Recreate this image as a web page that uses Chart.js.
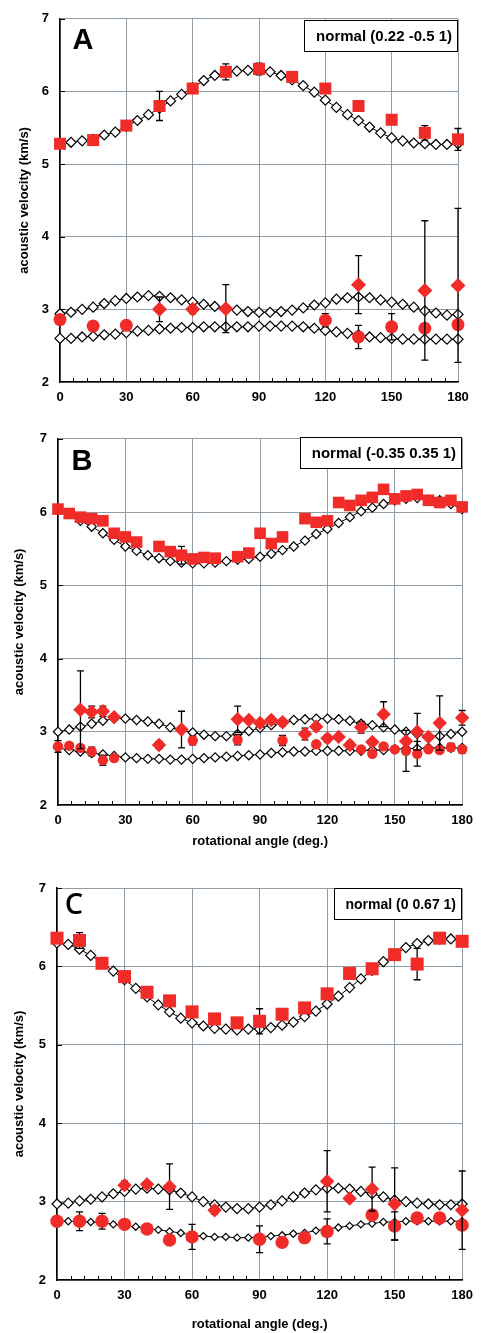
<!DOCTYPE html>
<html>
<head>
<meta charset="utf-8">
<script src="https://cdn.jsdelivr.net/npm/chart.js@4.4.1/dist/chart.umd.min.js"></script>
<style>
  html, body { margin: 0; padding: 0; background: #fff; }
  #page { position: relative; width: 481px; height: 1333px; }
  canvas { position: absolute; left: 0; }
</style>
</head>
<body>
<div id="page">
  <canvas id="chartA" width="481" height="420" style="top:0px"></canvas>
  <canvas id="chartB" width="481" height="430" style="top:420px"></canvas>
  <canvas id="chartC" width="481" height="483" style="top:850px"></canvas>
</div>
<script>
// rotational angle (deg.) of the model curves
const modelAngles = [0, 5, 10, 15, 20, 25, 30, 35, 40, 45, 50, 55, 60, 65, 70, 75, 80, 85, 90,
    95, 100, 105, 110, 115, 120, 125, 130, 135, 140, 145, 150, 155, 160, 165, 170, 175, 180];

// ---- A: normal (0.22 -0.5 1)
const aModelP = [5.27, 5.30, 5.32, 5.34, 5.40, 5.44, 5.52, 5.60, 5.68, 5.77, 5.87, 5.96, 6.05, 6.15, 6.22, 6.26, 6.28, 6.29, 6.30,
    6.27, 6.22, 6.16, 6.08, 5.99, 5.88, 5.78, 5.68, 5.60, 5.51, 5.43, 5.36, 5.32, 5.29, 5.28, 5.27, 5.27, 5.28];
const aModelS1 = [2.94, 2.96, 3.00, 3.03, 3.08, 3.12, 3.15, 3.17, 3.19, 3.18, 3.16, 3.13, 3.10, 3.07, 3.04, 3.01, 2.99, 2.97, 2.96,
    2.96, 2.97, 2.99, 3.02, 3.06, 3.09, 3.14, 3.16, 3.17, 3.16, 3.13, 3.10, 3.07, 3.03, 2.98, 2.95, 2.92, 2.93];
const aModelS2 = [2.60, 2.60, 2.62, 2.63, 2.65, 2.66, 2.68, 2.70, 2.71, 2.73, 2.74, 2.75, 2.75, 2.76, 2.76, 2.76, 2.76, 2.76, 2.77,
    2.77, 2.77, 2.77, 2.76, 2.74, 2.71, 2.69, 2.67, 2.65, 2.62, 2.61, 2.60, 2.59, 2.59, 2.59, 2.59, 2.59, 2.59];
const aAnglesP = [0, 15, 30, 45, 60, 75, 90, 105, 120, 135, 150, 165, 180];
const aMeasP = [5.28, 5.33, 5.53, 5.80, 6.04, 6.27, 6.31, 6.20, 6.04, 5.80, 5.61, 5.43, 5.34];
const aErrP = [0, 0, 0, 0.20, 0, 0.11, 0.08, 0, 0, 0, 0, 0.10, 0.15];
const aAnglesS1 = [45, 60, 75, 135, 165, 180];
const aMeasS1 = [3.00, 3.00, 3.01, 3.34, 3.26, 3.33];
const aErrS1 = [0.17, 0.06, 0.33, 0.40, 0.96, 1.06];
const aAnglesS2 = [0, 15, 30, 120, 135, 150, 165, 180];
const aMeasS2 = [2.86, 2.77, 2.78, 2.85, 2.62, 2.76, 2.74, 2.79];
const aErrS2 = [0, 0, 0, 0.09, 0.16, 0.18, 0, 0];

// ---- B: normal (-0.35 0.35 1)
const bModelP = [6.03, 5.98, 5.88, 5.80, 5.71, 5.62, 5.53, 5.47, 5.41, 5.37, 5.33, 5.31, 5.30, 5.30, 5.31, 5.33, 5.35, 5.36, 5.39,
    5.43, 5.48, 5.53, 5.61, 5.70, 5.77, 5.85, 5.93, 6.01, 6.06, 6.11, 6.16, 6.18, 6.19, 6.17, 6.16, 6.11, 6.04];
const bModelS1 = [3.00, 3.03, 3.07, 3.11, 3.15, 3.18, 3.18, 3.16, 3.14, 3.11, 3.06, 3.02, 2.99, 2.96, 2.94, 2.94, 2.97, 3.01, 3.05,
    3.09, 3.12, 3.16, 3.17, 3.18, 3.18, 3.17, 3.15, 3.11, 3.09, 3.06, 3.03, 3.00, 2.97, 2.94, 2.94, 2.97, 3.00];
const bModelS2 = [2.78, 2.75, 2.73, 2.71, 2.69, 2.67, 2.65, 2.64, 2.63, 2.63, 2.62, 2.62, 2.63, 2.64, 2.65, 2.66, 2.67, 2.68, 2.69,
    2.71, 2.72, 2.73, 2.73, 2.74, 2.74, 2.74, 2.74, 2.74, 2.75, 2.75, 2.76, 2.77, 2.77, 2.78, 2.78, 2.78, 2.78];
const bAnglesP = [0, 5, 10, 15, 20, 25, 30, 35, 45, 50, 55, 60, 65, 70, 80, 85, 90, 95, 100,
    110, 115, 120, 125, 130, 135, 140, 145, 150, 155, 160, 165, 170, 175, 180];
const bMeasP = [6.04, 5.98, 5.93, 5.91, 5.88, 5.71, 5.66, 5.59, 5.53, 5.46, 5.41, 5.36, 5.38, 5.37, 5.39, 5.44, 5.71, 5.57, 5.66,
    5.91, 5.86, 5.88, 6.13, 6.09, 6.16, 6.20, 6.31, 6.18, 6.22, 6.24, 6.16, 6.13, 6.16, 6.07];
const bErrP = [0, 0, 0, 0, 0, 0, 0, 0, 0, 0, 0.12, 0, 0, 0, 0, 0, 0.06, 0, 0,
    0, 0, 0, 0, 0, 0, 0, 0, 0, 0, 0, 0, 0, 0, 0];
const bAnglesS1 = [10, 15, 20, 25, 45, 55, 80, 85, 90, 95, 100, 110, 115, 120, 125, 130, 135, 140, 145, 155, 160, 165, 170, 180];
const bMeasS1 = [3.30, 3.27, 3.28, 3.20, 2.82, 3.03, 3.17, 3.16, 3.12, 3.16, 3.13, 2.97, 3.07, 2.91, 2.93, 2.82, 3.06, 2.86, 3.24,
    2.87, 3.00, 2.93, 3.12, 3.19];
const bErrS1 = [0.53, 0.08, 0.07, 0, 0.05, 0.25, 0.18, 0, 0, 0, 0.05, 0.08, 0, 0.05, 0, 0.05, 0.08, 0, 0.17,
    0, 0.25, 0, 0.37, 0.10];
const bAnglesS2 = [0, 5, 10, 15, 20, 25, 60, 80, 100, 115, 135, 140, 145, 150, 155, 160, 165, 170, 175, 180];
const bMeasS2 = [2.80, 2.81, 2.78, 2.73, 2.61, 2.64, 2.88, 2.89, 2.88, 2.83, 2.76, 2.70, 2.80, 2.76, 2.74, 2.70, 2.76, 2.75, 2.79, 2.76];
const bErrS2 = [0.08, 0.04, 0, 0.06, 0.07, 0, 0.06, 0.07, 0.07, 0, 0, 0, 0, 0, 0.28, 0.17, 0, 0, 0.05, 0.05];

// ---- C: normal (0 0.67 1)
const cModelP = [6.30, 6.28, 6.22, 6.14, 6.05, 5.94, 5.83, 5.72, 5.61, 5.51, 5.42, 5.34, 5.28, 5.24, 5.21, 5.20, 5.19, 5.20, 5.20,
    5.22, 5.25, 5.29, 5.36, 5.43, 5.52, 5.62, 5.73, 5.84, 5.95, 6.06, 6.15, 6.24, 6.29, 6.33, 6.35, 6.35, 6.32];
const cModelS1 = [2.97, 2.98, 3.01, 3.03, 3.06, 3.10, 3.13, 3.16, 3.17, 3.16, 3.15, 3.11, 3.06, 3.00, 2.96, 2.93, 2.91, 2.91, 2.93,
    2.96, 3.01, 3.06, 3.11, 3.15, 3.17, 3.17, 3.16, 3.13, 3.10, 3.06, 3.02, 3.00, 2.98, 2.97, 2.96, 2.96, 2.97];
const cModelS2 = [2.75, 2.75, 2.74, 2.74, 2.73, 2.71, 2.69, 2.68, 2.66, 2.64, 2.62, 2.60, 2.57, 2.56, 2.55, 2.55, 2.54, 2.54, 2.55,
    2.56, 2.57, 2.59, 2.60, 2.63, 2.65, 2.67, 2.69, 2.71, 2.72, 2.74, 2.74, 2.75, 2.75, 2.75, 2.75, 2.75, 2.75];
const cAnglesP = [0, 10, 20, 30, 40, 50, 60, 70, 80, 90, 100, 110, 120, 130, 140, 150, 160, 170, 180];
const cMeasP = [6.36, 6.33, 6.04, 5.87, 5.67, 5.56, 5.42, 5.33, 5.28, 5.30, 5.39, 5.47, 5.65, 5.91, 5.97, 6.15, 6.03, 6.36, 6.32];
const cErrP = [0.05, 0.10, 0, 0.05, 0, 0, 0, 0, 0, 0.16, 0.05, 0.05, 0.05, 0, 0, 0, 0.20, 0, 0];
const cAnglesS1 = [30, 40, 50, 70, 120, 130, 140, 150, 180];
const cMeasS1 = [3.21, 3.22, 3.19, 2.89, 3.26, 3.04, 3.16, 2.97, 2.89];
const cErrS1 = [0.05, 0.03, 0.29, 0.05, 0.39, 0, 0.28, 0.46, 0.50];
const cAnglesS2 = [0, 10, 20, 30, 40, 50, 60, 90, 100, 110, 120, 140, 150, 160, 170, 180];
const cMeasS2 = [2.75, 2.75, 2.75, 2.71, 2.65, 2.51, 2.55, 2.52, 2.48, 2.54, 2.62, 2.83, 2.69, 2.79, 2.79, 2.70];
const cErrS2 = [0.05, 0.12, 0.10, 0, 0.05, 0.05, 0.16, 0.17, 0, 0.04, 0.16, 0, 0.18, 0.05, 0.05, 0];

const angleTicks = [0, 30, 60, 90, 120, 150, 180];

const RED = '#f02b28';
const GRID = '#8e9ca6';
const FONT = "'Liberation Sans', Arial, Helvetica, sans-serif";

function points(xs, ys) {
    return xs.map((x, i) => ({ x: x, y: ys[i] }));
}

function modelSet(values, radius) {
    return {
        data: points(modelAngles, values),
        showLine: true,
        clip: false,
        borderColor: '#000',
        borderWidth: 1,
        pointStyle: 'rectRot',
        pointRadius: radius,
        pointBackgroundColor: '#fff',
        pointBorderColor: '#000',
        pointBorderWidth: 1.2,
        order: 2
    };
}

function measuredSet(angles, values, errors, style, radius) {
    return {
        data: points(angles, values),
        errors: errors,
        showLine: false,
        clip: false,
        pointStyle: style,
        pointRadius: radius,
        pointBackgroundColor: RED,
        pointBorderColor: RED,
        pointBorderWidth: 0,
        order: 1
    };
}

// error bars, inner tick marks, panel letter and the "normal (...)" box
const panelDecor = {
    id: 'panelDecor',
    beforeDatasetsDraw(chart) {
        const { ctx, chartArea: area, scales: { x, y } } = chart;
        ctx.save();
        ctx.strokeStyle = '#000';
        ctx.lineWidth = 1;
        ctx.beginPath();
        for (let a = 6; a < 180; a += 6) {
            if (a % 30 === 0) continue;
            const px = Math.round(x.getPixelForValue(a)) + 0.5;
            ctx.moveTo(px, area.bottom);
            ctx.lineTo(px, area.bottom - 4);
        }
        for (let v = 3; v <= 7; v++) {
            const py = Math.round(y.getPixelForValue(v)) + 0.5;
            ctx.moveTo(area.left, py);
            ctx.lineTo(area.left + 5, py);
        }
        ctx.stroke();
        ctx.restore();
    },
    beforeDatasetDraw(chart, args) {
        const ds = chart.data.datasets[args.index];
        if (!ds.errors) return;
        const { ctx, scales: { x, y } } = chart;
        ctx.save();
        ctx.strokeStyle = '#000';
        ctx.lineWidth = 1.3;
        ctx.beginPath();
        ds.data.forEach((p, i) => {
            const e = ds.errors[i];
            if (!e) return;
            const px = x.getPixelForValue(p.x);
            const top = y.getPixelForValue(p.y + e);
            const bot = y.getPixelForValue(p.y - e);
            ctx.moveTo(px, top); ctx.lineTo(px, bot);
            ctx.moveTo(px - 3.5, top); ctx.lineTo(px + 3.5, top);
            ctx.moveTo(px - 3.5, bot); ctx.lineTo(px + 3.5, bot);
        });
        ctx.stroke();
        ctx.restore();
    },
    afterDraw(chart, args, opts) {
        const { ctx, chartArea: area } = chart;
        ctx.save();
        ctx.fillStyle = '#000';
        ctx.font = opts.letterFont;
        ctx.textAlign = 'center';
        ctx.textBaseline = 'middle';
        ctx.fillText(opts.letter, area.left + opts.letterDx, area.top + opts.letterDy);

        ctx.font = opts.boxFont;
        const w = Math.round(ctx.measureText(opts.label).width + 18);
        const right = Math.round(area.right);
        const top = Math.round(area.top + opts.boxDy);
        ctx.fillStyle = '#fff';
        ctx.fillRect(right - w, top, w, 32);
        ctx.strokeStyle = '#000';
        ctx.lineWidth = 1;
        ctx.strokeRect(right - w + 0.5, top + 0.5, w - 1, 31);
        ctx.fillStyle = '#000';
        ctx.textAlign = 'right';
        ctx.fillText(opts.label, right - 6, top + 17);
        ctx.restore();
    }
};

function makePanel(id, cfg) {
    const ctx = document.getElementById(id).getContext('2d');
    const tickFont = { family: FONT, size: 13, weight: 'bold' };
    return new Chart(ctx, {
        type: 'scatter',
        data: {
            datasets: [
                measuredSet(cfg.angP, cfg.measP, cfg.errP, 'rect', cfg.sizes.p),
                measuredSet(cfg.angS1, cfg.measS1, cfg.errS1, 'rectRot', cfg.sizes.s1),
                measuredSet(cfg.angS2, cfg.measS2, cfg.errS2, 'circle', cfg.sizes.s2),
                modelSet(cfg.modelP, cfg.sizes.model),
                modelSet(cfg.modelS1, cfg.sizes.model),
                modelSet(cfg.modelS2, cfg.sizes.modelLow)
            ]
        },
        options: {
            responsive: false,
            animation: false,
            events: [],
            layout: {
                autoPadding: false,
                padding: { top: cfg.area.top, right: cfg.area.right, left: 0, bottom: 0 }
            },
            plugins: {
                legend: { display: false },
                tooltip: { enabled: false },
                panelDecor: cfg.decor
            },
            scales: {
                x: {
                    type: 'linear',
                    min: 0,
                    max: 180,
                    afterBuildTicks: (scale) => { scale.ticks = angleTicks.map(v => ({ value: v })); },
                    ticks: { color: '#000', font: tickFont, padding: 8, maxRotation: 0 },
                    grid: { color: GRID, lineWidth: 1, drawTicks: false },
                    border: { color: '#000', width: 1.5 },
                    title: {
                        display: cfg.xTitle,
                        text: 'rotational angle (deg.)',
                        color: '#000',
                        font: { family: FONT, size: 13, weight: 'bold' },
                        padding: { top: 0, bottom: 0.5 }
                    },
                    afterFit: (scale) => { scale.height = cfg.area.xHeight; }
                },
                y: {
                    type: 'linear',
                    min: 2,
                    max: 7,
                    ticks: { stepSize: 1, color: '#000', font: tickFont, padding: 11 },
                    grid: { color: GRID, lineWidth: 1, drawTicks: false },
                    border: { color: '#000', width: 1.5 },
                    title: {
                        display: true,
                        text: 'acoustic velocity (km/s)',
                        color: '#000',
                        font: { family: FONT, size: 13, weight: 'bold' },
                        padding: { top: cfg.area.yTitle, bottom: 0 }
                    },
                    afterFit: (scale) => { scale.width = cfg.area.left; }
                }
            }
        },
        plugins: [panelDecor]
    });
}

window.onload = function () {
    makePanel('chartA', {
        modelP: aModelP, modelS1: aModelS1, modelS2: aModelS2,
        angP: aAnglesP, measP: aMeasP, errP: aErrP,
        angS1: aAnglesS1, measS1: aMeasS1, errS1: aErrS1,
        angS2: aAnglesS2, measS2: aMeasS2, errS2: aErrS2,
        sizes: { p: 8.5, s1: 7.5, s2: 6.5, model: 5, modelLow: 5 },
        area: { top: 8, right: 23, left: 60, xHeight: 38, yTitle: 17 },
        xTitle: false,
        decor: { letter: 'A', letterFont: 'bold 29px ' + FONT, letterDx: 23, letterDy: 22,
                 label: 'normal (0.22 -0.5 1)', boxFont: 'bold 15px ' + FONT, boxDy: 1 }
    });

    makePanel('chartB', {
        modelP: bModelP, modelS1: bModelS1, modelS2: bModelS2,
        angP: bAnglesP, measP: bMeasP, errP: bErrP,
        angS1: bAnglesS1, measS1: bMeasS1, errS1: bErrS1,
        angS2: bAnglesS2, measS2: bMeasS2, errS2: bErrS2,
        sizes: { p: 8.2, s1: 7.2, s2: 5.2, model: 4.6, modelLow: 4.6 },
        area: { top: 14, right: 18, left: 58, xHeight: 45, yTitle: 12 },
        xTitle: true,
        decor: { letter: 'B', letterFont: 'bold 29px ' + FONT, letterDx: 24, letterDy: 23,
                 label: 'normal (-0.35 0.35 1)', boxFont: 'bold 15px ' + FONT, boxDy: -2 }
    });

    makePanel('chartC', {
        modelP: cModelP, modelS1: cModelS1, modelS2: cModelS2,
        angP: cAnglesP, measP: cMeasP, errP: cErrP,
        angS1: cAnglesS1, measS1: cMeasS1, errS1: cErrS1,
        angS2: cAnglesS2, measS2: cMeasS2, errS2: cErrS2,
        sizes: { p: 9.2, s1: 7.2, s2: 6.7, model: 5, modelLow: 3.6 },
        area: { top: 38, right: 11, left: 57, xHeight: 53, yTitle: 12 },
        xTitle: true,
        decor: { letter: 'C', letterFont: '600 29px "Open Sans", ' + FONT, letterDx: 17, letterDy: 18,
                 label: 'normal (0 0.67 1)', boxFont: 'bold 14px ' + FONT, boxDy: 0 }
    });
};
</script>
</body>
</html>
